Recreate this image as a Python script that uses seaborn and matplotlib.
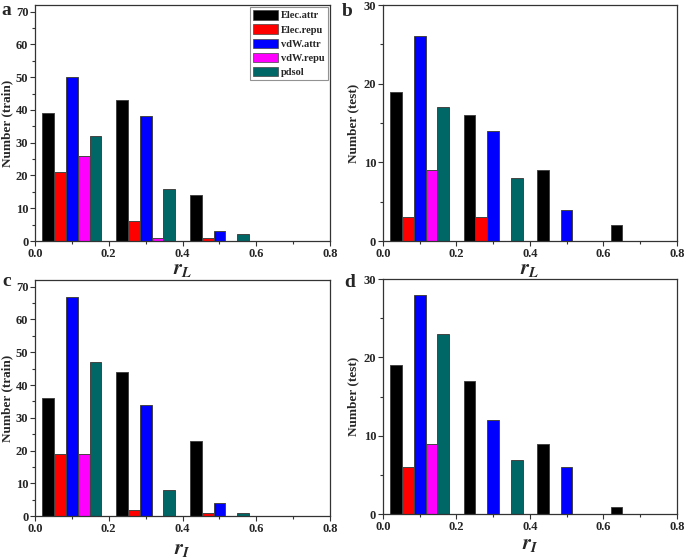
import pandas as pd
import seaborn as sns
import matplotlib.pyplot as plt
from matplotlib.patches import Patch
from matplotlib.ticker import MultipleLocator

# bin centres (r in 0-0.2, 0.2-0.4, 0.4-0.6, 0.6-0.8)
bin_centers = [0.1, 0.3, 0.5, 0.7]
bin_edges = [0.0, 0.2, 0.4, 0.6, 0.8]
series = ['Elec.attr', 'Elec.repu', 'vdW.attr', 'vdW.repu', 'pdsol']
colors = ['#000000', '#ff0000', '#0000ff', '#ff00ff', '#006666']

# counts per series, one value per bin
a_train_rL = {'Elec.attr': [39, 43, 14, 0], 'Elec.repu': [21, 6, 1, 0], 'vdW.attr': [50, 38, 3, 0],
              'vdW.repu': [26, 1, 0, 0], 'pdsol': [32, 16, 2, 0]}
b_test_rL = {'Elec.attr': [19, 16, 9, 2], 'Elec.repu': [3, 3, 0, 0], 'vdW.attr': [26, 14, 4, 0],
             'vdW.repu': [9, 0, 0, 0], 'pdsol': [17, 8, 0, 0]}
c_train_rI = {'Elec.attr': [36, 44, 23, 0], 'Elec.repu': [19, 2, 1, 0], 'vdW.attr': [67, 34, 4, 0],
              'vdW.repu': [19, 0, 0, 0], 'pdsol': [47, 8, 1, 0]}
d_test_rI = {'Elec.attr': [19, 17, 9, 1], 'Elec.repu': [6, 0, 0, 0], 'vdW.attr': [28, 12, 6, 0],
             'vdW.repu': [9, 0, 0, 0], 'pdsol': [23, 7, 0, 0]}

panels = [('a', a_train_rL, 'Number (train)', '$r_L$', 72),
          ('b', b_test_rL, 'Number (test)', '$r_L$', 30),
          ('c', c_train_rI, 'Number (train)', '$r_I$', 72),
          ('d', d_test_rI, 'Number (test)', '$r_I$', 30)]

# axes boxes in figure fractions [left, bottom, width, height]
boxes = [[0.051, 0.568, 0.431, 0.423],
         [0.559, 0.568, 0.429, 0.423],
         [0.051, 0.075, 0.431, 0.423],
         [0.559, 0.078, 0.429, 0.422]]
ylabel_x = [-0.075, -0.082, -0.075, -0.082]
xlabel_y = [-0.08, -0.08, -0.10, -0.089]
letter_pos = [(0.0095, 0.982), (0.507, 0.980), (0.0095, 0.495), (0.511, 0.493)]

sns.set_style('ticks')
plt.rcParams['font.family'] = ['Liberation Serif', 'DejaVu Serif']
plt.rcParams['font.weight'] = 'bold'
plt.rcParams['mathtext.fontset'] = 'stix'

fig = plt.figure(figsize=(6.85, 5.58), dpi=100)
spine_col = '#333333'

for i, ((letter, counts, ylab, xlab, ytop), box) in enumerate(zip(panels, boxes)):
    ax = fig.add_axes(box)
    rows = []
    for s in series:
        for c, v in zip(bin_centers, counts[s]):
            rows.append({'r': c, 'series': s, 'count': v})
    df = pd.DataFrame(rows)
    sns.histplot(data=df, x='r', weights='count', hue='series', hue_order=series,
                 palette=colors, bins=bin_edges, multiple='dodge', shrink=0.8,
                 alpha=1, edgecolor='#444444', linewidth=0.7, legend=False, ax=ax)
    ax.set_xlim(0, 0.8)
    ax.set_ylim(0, ytop)
    ax.xaxis.set_minor_locator(MultipleLocator(0.1))
    ax.yaxis.set_major_locator(MultipleLocator(10))
    ax.yaxis.set_minor_locator(MultipleLocator(5))
    ax.set_xticks([0, 0.2, 0.4, 0.6, 0.8])
    ax.set_xticklabels(['0.0', '0.2', '0.4', '0.6', '0.8'])
    ax.tick_params(which='major', length=3.6, width=0.8, color=spine_col, labelsize=9, pad=1.2)
    ax.tick_params(which='minor', length=2.2, width=0.8, color=spine_col)
    for sp in ax.spines.values():
        sp.set_visible(True)
        sp.set_color(spine_col)
        sp.set_linewidth(0.9)
    for lab in ax.get_xticklabels() + ax.get_yticklabels():
        lab.set_fontweight('bold')
    ax.set_ylabel(ylab, fontsize=9.5, fontweight='bold')
    ax.yaxis.set_label_coords(ylabel_x[i], 0.5)
    ax.set_xlabel(xlab, fontsize=15)
    ax.xaxis.set_label_coords(0.5, xlabel_y[i])
    fig.text(letter_pos[i][0], letter_pos[i][1], letter, fontsize=14,
             fontweight='bold', ha='center', va='center')

    if letter == 'a':
        handles = [Patch(facecolor=c, edgecolor='#444444', linewidth=0.5) for c in colors]
        leg = ax.legend(handles, series, loc='upper right', frameon=True, fancybox=False,
                        prop={'size': 7.5, 'weight': 'bold'}, handlelength=2.4, handleheight=1.0,
                        handletextpad=0.3, labelspacing=0.38, borderpad=0.3,
                        borderaxespad=0.2)
        leg.get_frame().set_edgecolor('#777777')
        leg.get_frame().set_linewidth(0.8)

fig.savefig('out.png', dpi=100)
